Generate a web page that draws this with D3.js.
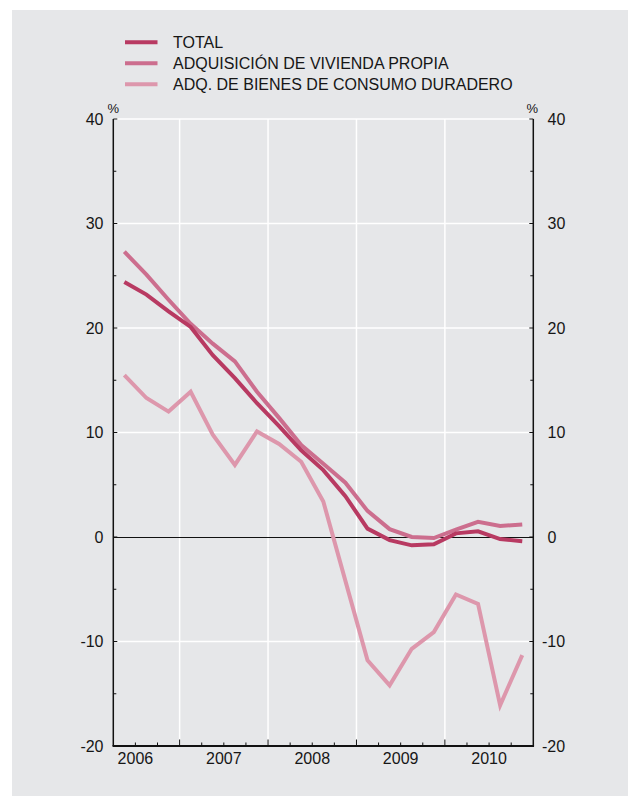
<!DOCTYPE html>
<html>
<head>
<meta charset="utf-8">
<script src="https://cdn.jsdelivr.net/npm/d3@7"></script>
<style>
  html, body { margin: 0; padding: 0; background: #ffffff; }
  svg { display: block; }
  text { font-family: "Liberation Sans", Arial, Helvetica, sans-serif; fill: #161616; }
</style>
</head>
<body>
<script>
// Quarterly periods (year-quarter)
const periods = [
  "2006-2","2006-3","2006-4",
  "2007-1","2007-2","2007-3","2007-4",
  "2008-1","2008-2","2008-3","2008-4",
  "2009-1","2009-2","2009-3","2009-4",
  "2010-1","2010-2","2010-3","2010-4"
];

// Annual growth rates, %
const total = [24.4, 23.2, 21.6, 20.1, 17.4, 15.2, 12.8, 10.6, 8.3, 6.4, 3.9,
               0.8, -0.3, -0.8, -0.7, 0.35, 0.55, -0.2, -0.4];
const vivienda = [27.3, 25.1, 22.7, 20.4, 18.5, 16.8, 13.9, 11.4, 8.8, 7.0, 5.2,
                  2.5, 0.75, 0.0, -0.1, 0.7, 1.45, 1.05, 1.2];
const consumo = [15.5, 13.3, 12.0, 13.9, 9.8, 6.9, 10.1, 8.9, 7.2, 3.4, -4.2,
                 -11.8, -14.2, -10.7, -9.1, -5.5, -6.4, -16.1, -11.3];

const seriesNames = ["TOTAL", "ADQUISICIÓN DE VIVIENDA PROPIA", "ADQ. DE BIENES DE CONSUMO DURADERO"];
const seriesColors = ["#b83a62", "#cc6e8e", "#dd97ac"];

const yearLabels = ["2006", "2007", "2008", "2009", "2010"];
const yTicks = [-20, -10, 0, 10, 20, 30, 40];
const yMinorTicks = [-15, -5, 5, 15, 25, 35];

const W = 628, H = 796;
const svg = d3.select("body").append("svg").attr("width", W).attr("height", H);

// Panel background
svg.append("rect").attr("x", 12).attr("y", 10).attr("width", W - 12).attr("height", H - 10)
  .attr("fill", "#e6e7e9");

const plotL = 113.3, plotR = 533.3, plotT = 119, plotB = 746;

const parseT = p => { const [yr, q] = p.split("-").map(Number); return yr + (q - 1) / 4 + 0.125; };
const x = d3.scaleLinear().domain([2006.25, 2011]).range([plotL, plotR]);
const y = d3.scaleLinear().domain([-20, 40]).range([plotB, plotT]);

// Horizontal grid
const gridY = yTicks.filter(v => v !== 0 && v !== -20);
svg.append("g").selectAll("line").data(gridY).join("line")
  .attr("x1", plotL).attr("x2", plotR)
  .attr("y1", d => y(d)).attr("y2", d => y(d))
  .attr("stroke", "#ffffff").attr("stroke-width", 1.5);

// Vertical grid at year boundaries
const yearBounds = [2007, 2008, 2009, 2010];
svg.append("g").selectAll("line").data(yearBounds).join("line")
  .attr("x1", d => x(d)).attr("x2", d => x(d))
  .attr("y1", plotT).attr("y2", plotB)
  .attr("stroke", "#ffffff").attr("stroke-width", 1.5);

// Zero line
svg.append("line").attr("x1", plotL).attr("x2", plotR)
  .attr("y1", y(0) + 0.5).attr("y2", y(0) + 0.5)
  .attr("stroke", "#111").attr("stroke-width", 1.1);

// Series lines
const line = d3.line().x((d, i) => x(parseT(periods[i]))).y(d => y(d));
const seriesData = [total, vivienda, consumo];
[2, 1, 0].forEach(k => {
  svg.append("path").datum(seriesData[k])
    .attr("d", line)
    .attr("fill", "none")
    .attr("stroke", seriesColors[k])
    .attr("stroke-width", 4);
});

// Left axis
const leftAxis = svg.append("g");
leftAxis.append("line").attr("x1", plotL).attr("x2", plotL).attr("y1", plotT).attr("y2", plotB)
  .attr("stroke", "#111").attr("stroke-width", 1.5);
leftAxis.selectAll(".maj").data(yTicks).join("line")
  .attr("x1", plotL).attr("x2", plotL + 4).attr("y1", d => y(d)).attr("y2", d => y(d))
  .attr("stroke", "#111").attr("stroke-width", 1);
leftAxis.selectAll(".min").data(yMinorTicks).join("line")
  .attr("x1", plotL).attr("x2", plotL + 3).attr("y1", d => y(d)).attr("y2", d => y(d))
  .attr("stroke", "#111").attr("stroke-width", 1);
leftAxis.selectAll("text").data(yTicks).join("text")
  .attr("x", 103.5).attr("y", d => y(d)).attr("dy", "0.36em")
  .attr("text-anchor", "end").attr("font-size", 16)
  .text(d => d);

// Right axis
const rightAxis = svg.append("g");
rightAxis.append("line").attr("x1", plotR).attr("x2", plotR).attr("y1", plotT).attr("y2", plotB)
  .attr("stroke", "#111").attr("stroke-width", 1.5);
rightAxis.selectAll(".maj").data(yTicks).join("line")
  .attr("x1", plotR - 4).attr("x2", plotR).attr("y1", d => y(d)).attr("y2", d => y(d))
  .attr("stroke", "#111").attr("stroke-width", 1);
rightAxis.selectAll(".min").data(yMinorTicks).join("line")
  .attr("x1", plotR - 3).attr("x2", plotR).attr("y1", d => y(d)).attr("y2", d => y(d))
  .attr("stroke", "#111").attr("stroke-width", 1);
rightAxis.selectAll("text").data(yTicks).join("text")
  .attr("x", d => d < 0 ? 542 : 547.5).attr("y", d => y(d)).attr("dy", "0.36em")
  .attr("text-anchor", "start").attr("font-size", 16)
  .text(d => d);

// Unit markers
svg.append("text").attr("x", 107.5).attr("y", 113).attr("font-size", 13).text("%");
svg.append("text").attr("x", 526.5).attr("y", 113).attr("font-size", 13).text("%");

// Bottom axis
const bottomAxis = svg.append("g");
bottomAxis.append("line").attr("x1", plotL - 0.75).attr("x2", plotR + 0.75).attr("y1", plotB).attr("y2", plotB)
  .attr("stroke", "#111").attr("stroke-width", 2);
const quarterTicks = d3.range(2006.5, 2011, 0.25).filter(t => t < 2010.99);
bottomAxis.selectAll(".qt").data(quarterTicks).join("line")
  .attr("x1", d => x(d)).attr("x2", d => x(d))
  .attr("y1", plotB).attr("y2", d => Number.isInteger(d) ? plotB - 6.5 : plotB - 3.5)
  .attr("stroke", "#111").attr("stroke-width", 1);
bottomAxis.selectAll("text").data(yearLabels).join("text")
  .attr("x", d => x(+d + 0.5))
  .attr("y", 763.5).attr("text-anchor", "middle").attr("font-size", 16)
  .text(d => d);

// Legend
const legend = svg.append("g");
seriesNames.forEach((name, i) => {
  const ly = 42.3 + i * 21;
  legend.append("line").attr("x1", 125).attr("x2", 157.5).attr("y1", ly).attr("y2", ly)
    .attr("stroke", seriesColors[i]).attr("stroke-width", 4);
  legend.append("text").attr("x", 173).attr("y", ly).attr("dy", "0.36em")
    .attr("font-size", 16).text(name);
});
</script>
</body>
</html>
